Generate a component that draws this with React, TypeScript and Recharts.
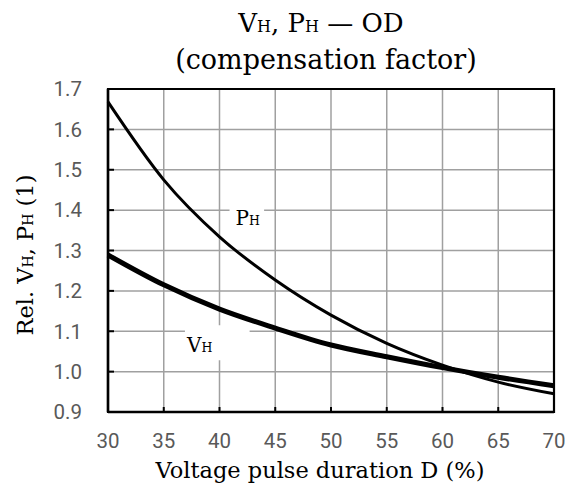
import { LineChart, Line, XAxis, YAxis, CartesianGrid, ReferenceArea } from 'recharts';

// voltage pulse duration D (%)
const durations = [30, 35, 40, 45, 50, 55, 60, 65, 70];
// relative heating power P_H
const powerRel = [1.668, 1.475, 1.334, 1.227, 1.14, 1.07, 1.016, 0.974, 0.945];
// relative heating voltage V_H
const voltageRel = [1.289, 1.215, 1.155, 1.108, 1.066, 1.037, 1.01, 0.986, 0.965];

const xTicks = [30, 35, 40, 45, 50, 55, 60, 65, 70];
const yTicks = [0.9, 1.0, 1.1, 1.2, 1.3, 1.4, 1.5, 1.6, 1.7];

const data = durations.map((d, i) => ({ d, ph: powerRel[i], vh: voltageRel[i] }));

const SERIF = '"DejaVu Serif", serif';
const TICK_FONT = { fontFamily: 'Roboto, sans-serif', fontSize: 20.5, fill: '#595959' };

function CurveLabel(props: any) {
  const vb = props.viewBox ?? {};
  return (
    <text x={vb.x + props.dx} y={vb.y + props.dy} fontFamily={SERIF} fontSize={20} fill="#000">
      {props.main}
      <tspan fontSize={12.5}>H</tspan>
    </text>
  );
}

export default function App() {
  return (
    <div style={{ position: 'absolute', left: 0, top: 0, width: 575, height: 492, background: '#fff' }}>
      <LineChart width={575} height={492} data={data} margin={{ top: 89, right: 21, bottom: 0, left: 0 }}>
        <CartesianGrid stroke="#a0a0a0" strokeWidth={1.5} />
        <XAxis
          type="number"
          dataKey="d"
          domain={[30, 70]}
          ticks={xTicks}
          height={80}
          tick={TICK_FONT}
          tickSize={-5}
          tickMargin={26}
          tickLine={{ stroke: '#000', strokeWidth: 2 }}
          axisLine={{ stroke: '#000', strokeWidth: 2.5 }}
        />
        <YAxis
          type="number"
          domain={[0.9, 1.7]}
          ticks={yTicks}
          width={108}
          tick={TICK_FONT}
          tickFormatter={(v: number) => v.toFixed(1)}
          tickSize={-6}
          tickMargin={32}
          tickLine={{ stroke: '#000', strokeWidth: 2 }}
          axisLine={{ stroke: '#000', strokeWidth: 2.5 }}
        />
        <ReferenceArea x1={30} x2={70} y1={0.9} y2={1.7} fill="none" stroke="#000" strokeWidth={2.2} />
        <ReferenceArea
          x1={40.9}
          x2={44.0}
          y1={1.38}
          y2={1.43}
          fill="#fff"
          fillOpacity={1}
          stroke="none"
          label={(p: any) => <CurveLabel {...p} main="P" dx={6} dy={27} />}
        />
        <ReferenceArea
          x1={36.9}
          x2={42.7}
          y1={1.028}
          y2={1.115}
          fill="#fff"
          fillOpacity={1}
          stroke="none"
          label={(p: any) => <CurveLabel {...p} main="V" dx={2} dy={27} />}
        />
        <Line type="monotone" dataKey="ph" stroke="#000" strokeWidth={3} dot={false} isAnimationActive={false} />
        <Line type="monotone" dataKey="vh" stroke="#000" strokeWidth={5} dot={false} isAnimationActive={false} />
      </LineChart>
      <svg width={575} height={492} style={{ position: 'absolute', left: 0, top: 0, pointerEvents: 'none' }}>
        <text x={321} y={32} textAnchor="middle" fontFamily={SERIF} fontSize={26} fill="#000">
          V<tspan fontSize={16}>H</tspan>, P<tspan fontSize={16}>H</tspan> — OD
        </text>
        <text x={326} y={69} textAnchor="middle" fontFamily={SERIF} fontSize={27} fill="#000">
          (compensation factor)
        </text>
        <text x={320} y={478} textAnchor="middle" fontFamily={SERIF} fontSize={22.5} fill="#000">
          Voltage pulse duration D (%)
        </text>
        <text
          x={0}
          y={0}
          transform="translate(33 255) rotate(-90)"
          textAnchor="middle"
          fontFamily={SERIF}
          fontSize={22.5}
          fill="#000"
        >
          Rel. V<tspan fontSize={14}>H</tspan>, P<tspan fontSize={14}>H</tspan> (1)
        </text>
      </svg>
    </div>
  );
}
